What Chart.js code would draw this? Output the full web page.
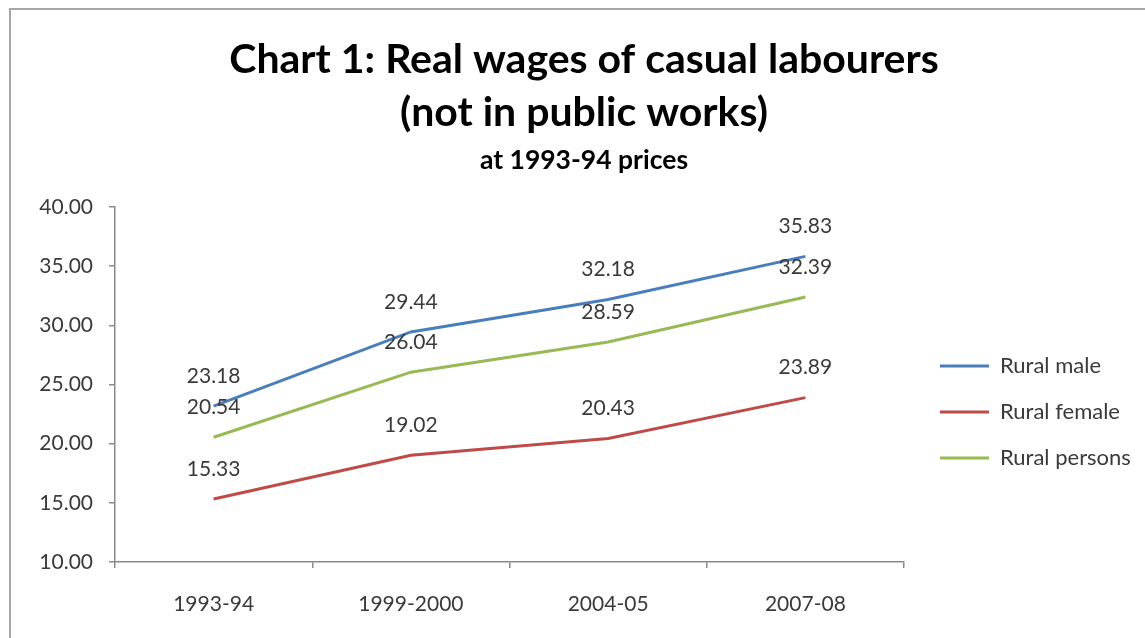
<!DOCTYPE html>
<html>
<head>
<meta charset="utf-8">
<title>Real wages of casual labourers</title>
<script src="https://cdn.jsdelivr.net/npm/chart.js@4.4.1/dist/chart.umd.min.js"></script>
<style>
    html, body { margin: 0; padding: 0; background: #fff; overflow: hidden; }
    #frame {
        position: absolute; left: 9px; top: 8px; width: 1160px; height: 660px;
        border-left: 2px solid #a6a6a6; border-top: 2px solid #a6a6a6;
    }
    canvas { display: block; }
</style>
</head>
<body>
<div id="frame"><canvas id="wages" width="1146" height="640"></canvas></div>
<script>
// survey rounds
const categories = ['1993-94', '1999-2000', '2004-05', '2007-08']

// daily real wage, Rs at 1993-94 prices
const ruralMale = [23.18, 29.44, 32.18, 35.83]
const ruralFemale = [15.33, 19.02, 20.43, 23.89]
const ruralPersons = [20.54, 26.04, 28.59, 32.39]

// value axis
const yMin = 10
const yMax = 40
const yStep = 5

const FONT = 'Lato, "Open Sans", sans-serif'
const AXIS_GREY = '#8a8a8a'
const TEXT_GREY = '#3a3a3a'

// value printed above every point
const pointLabels = {
    id: 'pointLabels',
    afterDatasetsDraw(chart) {
        const ctx = chart.ctx
        ctx.save()
        ctx.font = '21px ' + FONT
        ctx.fillStyle = TEXT_GREY
        ctx.textAlign = 'center'
        ctx.textBaseline = 'middle'
        chart.data.datasets.forEach((ds, i) => {
            chart.getDatasetMeta(i).data.forEach((pt, j) => {
                ctx.fillText(ds.data[j].toFixed(2), pt.x, pt.y - 30)
            })
        })
        ctx.restore()
    }
}

// fixed legend column width so the plot keeps its size
const legendWidth = {
    id: 'legendWidth',
    beforeInit(chart) {
        const fit = chart.legend.fit
        chart.legend.fit = function () {
            fit.bind(chart.legend)()
            this.width = 241
        }
    }
}

new Chart(document.getElementById('wages'), {
    type: 'line',
    data: {
        labels: categories,
        datasets: [
            {label: 'Rural male', data: ruralMale, borderColor: '#4a7ebb', backgroundColor: '#4a7ebb'},
            {label: 'Rural female', data: ruralFemale, borderColor: '#be4b48', backgroundColor: '#be4b48'},
            {label: 'Rural persons', data: ruralPersons, borderColor: '#98b954', backgroundColor: '#98b954'}
        ]
    },
    options: {
        responsive: false,
        animation: false,
        layout: {padding: {left: 0, right: 0, top: 0, bottom: 33}},
        elements: {
            line: {borderWidth: 3, tension: 0},
            point: {radius: 0, hoverRadius: 0}
        },
        scales: {
            x: {
                offset: true,
                grid: {offset: true, drawOnChartArea: false, drawTicks: true, tickLength: 6, color: AXIS_GREY, lineWidth: 1.5},
                border: {color: AXIS_GREY, width: 1.5},
                ticks: {color: TEXT_GREY, font: {family: FONT, size: 21}, padding: 24, maxRotation: 0},
                afterFit(scale) { scale.height = 55 }
            },
            y: {
                min: yMin,
                max: yMax,
                grid: {drawOnChartArea: false, drawTicks: true, tickLength: 6, color: AXIS_GREY, lineWidth: 1.5},
                border: {color: AXIS_GREY, width: 1.5},
                ticks: {
                    stepSize: yStep,
                    color: TEXT_GREY,
                    font: {family: FONT, size: 21},
                    padding: 16,
                    callback: v => v.toFixed(2)
                },
                afterFit(scale) { scale.width = 104 }
            },
            gap: {
                type: 'linear',
                position: 'right',
                grid: {display: false},
                border: {display: false},
                ticks: {display: false},
                afterFit(scale) { scale.width = 12 }
            }
        },
        plugins: {
            title: {
                display: true,
                text: ['Chart 1: Real wages of casual labourers', '(not in public works)'],
                color: '#000',
                font: {family: FONT, size: 41, weight: 'bold', lineHeight: 53 / 41},
                padding: {top: 23, bottom: 0}
            },
            subtitle: {
                display: true,
                text: 'at 1993-94 prices',
                color: '#000',
                font: {family: FONT, size: 26.5, weight: 'bold', lineHeight: 30 / 26.5},
                padding: {top: 6.5, bottom: 31.5}
            },
            legend: {
                position: 'right',
                fullSize: false,
                title: {display: true, text: '', font: {size: 10, lineHeight: 1}, padding: {top: 45, bottom: 0}},
                labels: {
                    color: TEXT_GREY,
                    font: {family: FONT, size: 22},
                    boxWidth: 49,
                    boxHeight: 3,
                    padding: 24,
                    generateLabels(chart) {
                        return Chart.defaults.plugins.legend.labels.generateLabels(chart)
                            .map(item => Object.assign(item, {lineWidth: 0}))
                    }
                }
            },
            tooltip: {enabled: false}
        }
    },
    plugins: [pointLabels, legendWidth]
})
</script>
</body>
</html>
